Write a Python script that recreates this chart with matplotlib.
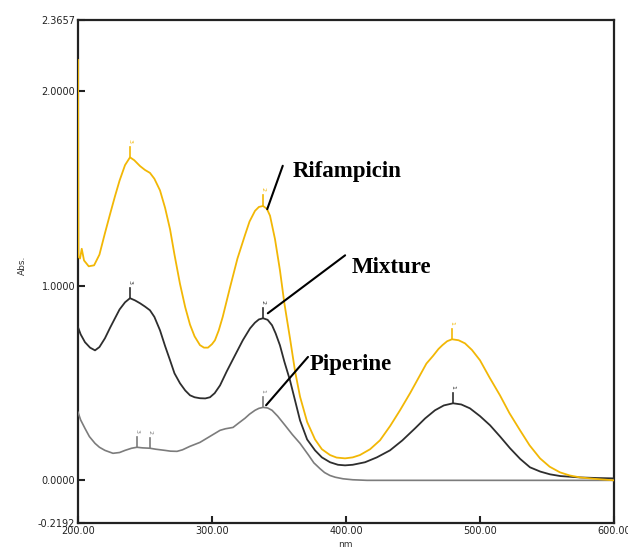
import matplotlib.pyplot as plt

# Rifampicin (yellow)
rif_nm = [200, 200.3, 201.5, 202.8, 204.5, 208, 212, 216, 220.1, 224, 227.6, 231, 235.1,
          238.8, 242, 246.3, 250, 253.7, 257, 261.2, 265, 268.7, 272, 276.1, 280, 283.6,
          287, 291.0, 294, 297, 300, 302.2, 305, 308, 313.4, 319, 324.6, 328, 332.1, 335,
          338.1, 341, 343.3, 347, 350.7, 354, 358.2, 362, 365.7, 371, 376.9, 382, 388.1,
          393, 399.3, 405, 410.4, 418, 425.4, 433, 440.3, 448, 455.2, 460, 465, 469, 472,
          475.5, 479.1, 484, 488.8, 494, 500, 507, 514.9, 522, 529.9, 537, 544.8, 552,
          559.7, 567, 574.6, 585, 600]
rif_abs = [2.16, 1.15, 1.14, 1.19, 1.13, 1.10, 1.105, 1.16, 1.27, 1.37, 1.46, 1.54, 1.62,
           1.66, 1.645, 1.615, 1.595, 1.58, 1.55, 1.49, 1.40, 1.29, 1.16, 1.01, 0.89, 0.80,
           0.74, 0.695, 0.682, 0.682, 0.70, 0.72, 0.77, 0.84, 0.99, 1.14, 1.26, 1.33, 1.385,
           1.405, 1.41, 1.395, 1.36, 1.24, 1.08, 0.91, 0.73, 0.56, 0.43, 0.30, 0.21, 0.16,
           0.13, 0.117, 0.113, 0.118, 0.13, 0.16, 0.206, 0.28, 0.36, 0.45, 0.54, 0.60, 0.64,
           0.675, 0.695, 0.715, 0.725, 0.72, 0.704, 0.67, 0.617, 0.53, 0.437, 0.345, 0.257,
           0.18, 0.113, 0.07, 0.041, 0.025, 0.015, 0.008, 0.0]

# Mixture (dark)
mix_nm = [200, 202, 205.2, 209, 212.7, 216, 220.1, 224, 227.6, 231, 235.1, 238.8, 242.5,
          246.3, 250, 253.7, 257, 261.2, 265, 268.7, 272, 276.1, 280, 283.6, 287, 291.0,
          295, 298.5, 302, 306.0, 311, 317.2, 323, 328.4, 332, 335, 338.1, 341.5, 344.8,
          347.5, 350.7, 354, 358.2, 362, 365.7, 371, 376.9, 382, 388.1, 394, 399.3, 405,
          414.2, 423, 432.8, 442, 451.5, 459, 466.4, 473, 479.9, 486, 492.5, 500, 507.5, 515,
          522.4, 530, 537.3, 545, 552.2, 560, 574.6, 587, 600]
mix_abs = [0.787, 0.75, 0.71, 0.682, 0.668, 0.685, 0.73, 0.785, 0.833, 0.878, 0.915, 0.936,
           0.925, 0.91, 0.893, 0.874, 0.84, 0.771, 0.69, 0.617, 0.55, 0.499, 0.462, 0.437,
           0.427, 0.422, 0.421, 0.427, 0.448, 0.488, 0.56, 0.643, 0.72, 0.781, 0.81, 0.827,
           0.833, 0.825, 0.797, 0.755, 0.694, 0.61, 0.514, 0.41, 0.308, 0.21, 0.154, 0.118,
           0.093, 0.08, 0.077, 0.08, 0.093, 0.118, 0.154, 0.205, 0.267, 0.318, 0.36, 0.385,
           0.396, 0.39, 0.37, 0.33, 0.283, 0.225, 0.165, 0.11, 0.067, 0.045, 0.031, 0.022,
           0.015, 0.012, 0.01]

# Piperine (grey)
pip_nm = [200, 202, 205.2, 208.5, 212.7, 216, 220.1, 226.1, 231, 235.1, 240, 244.0, 248,
          253.7, 258, 264.9, 269, 273.9, 278, 283.6, 291.0, 298.5, 306.0, 310, 315.7, 320,
          324.6, 328, 332.1, 335, 338.1, 341.5, 344.8, 349, 354.5, 360, 365.7, 372, 376,
          380.6, 384, 388, 392, 397.8, 405, 415.7, 600]
pip_abs = [0.35, 0.31, 0.267, 0.225, 0.19, 0.17, 0.154, 0.139, 0.143, 0.154, 0.165, 0.17,
           0.167, 0.165, 0.16, 0.154, 0.15, 0.149, 0.157, 0.175, 0.195, 0.226, 0.257, 0.265,
           0.272, 0.295, 0.319, 0.34, 0.36, 0.37, 0.375, 0.372, 0.36, 0.33, 0.283, 0.235,
           0.19, 0.13, 0.09, 0.06, 0.04, 0.025, 0.016, 0.008, 0.003, 0.0, 0.0]

# peak markers: (wavelength, absorbance, label)
rif_peaks = [(238.8, 1.66, '3'), (338.1, 1.41, '2'), (479.1, 0.725, '1')]
mix_peaks = [(238.8, 0.936, '3'), (338.1, 0.833, '2'), (479.9, 0.396, '1')]
pip_peaks = [(244.0, 0.17, '3'), (253.7, 0.165, '2'), (338.1, 0.375, '1')]

yellow = '#f2b705'
dark = '#2e2e2e'
grey = '#7c7c7c'

fig = plt.figure(figsize=(6.28, 5.48), dpi=100)
ax = fig.add_axes([78 / 628, 25 / 548, 536 / 628, 503 / 548])

ax.plot(pip_nm, pip_abs, color=grey, lw=1.2, zorder=3)
ax.plot(mix_nm, mix_abs, color=dark, lw=1.3, zorder=3)
ax.plot(rif_nm, rif_abs, color=yellow, lw=1.3, zorder=3)

small = ['Liberation Sans Narrow', 'DejaVu Sans']
for peaks, c in [(rif_peaks, yellow), (mix_peaks, dark), (pip_peaks, grey)]:
    for x, y, lab in peaks:
        ax.plot([x, x], [y, y + 0.055], color=c, lw=1.2)
        ax.text(x, y + 0.075, lab, color=c, fontsize=4.5, ha='center', va='bottom',
                rotation=-90, family=small)

ax.set_xlim(200, 600)
ax.set_ylim(-0.2192, 2.3657)
ax.set_xticks([200, 300, 400, 500, 600])
ax.set_xticklabels(['200.00', '300.00', '400.00', '500.00', '600.00'])
ax.set_yticks([-0.2192, 0, 1, 2, 2.3657])
ax.set_yticklabels(['-0.2192', '0.0000', '1.0000', '2.0000', '2.3657'])
ax.set_yticks([1, 2], minor=True)
ax.tick_params(axis='both', which='major', direction='in', length=5, width=1.5,
               labelsize=7, pad=2, colors='#222222')
ax.tick_params(axis='y', which='minor', left=False, right=True, direction='in',
               length=5, width=1.5)
for t in ax.get_xticklabels() + ax.get_yticklabels():
    t.set_family(small)
for s in ax.spines.values():
    s.set_linewidth(1.6)
    s.set_color('#222222')

fig.text(22 / 628, 1 - 265 / 548, 'Abs.', rotation=90, fontsize=6.5, ha='center',
         va='center', family=small, color='#333333')
fig.text(345 / 628, 1 - 540 / 548, 'nm', fontsize=6.5, ha='center', va='top',
         family=small, color='#333333')

# labels with leader lines
bold = dict(family='Liberation Serif', fontweight='bold', fontsize=16.5, color='black',
            va='center', ha='left')
ax.text(200 + (293 - 78) / 1.34, (480 - 171) / 194.5, 'Rifampicin', **bold)
ax.annotate('', xy=(340.5, 1.38), xytext=(353.5, 1.63),
            arrowprops=dict(arrowstyle='-', color='black', lw=1.5))
ax.text(200 + (352 - 78) / 1.34, (480 - 267) / 194.5, 'Mixture', **bold)
ax.annotate('', xy=(340, 0.85), xytext=(401, 1.165),
            arrowprops=dict(arrowstyle='-', color='black', lw=1.5))
ax.text(200 + (310 - 78) / 1.34, (480 - 364) / 194.5, 'Piperine', **bold)
ax.annotate('', xy=(339, 0.375), xytext=(373, 0.645),
            arrowprops=dict(arrowstyle='-', color='black', lw=1.5))

fig.savefig('out.png', dpi=100)
